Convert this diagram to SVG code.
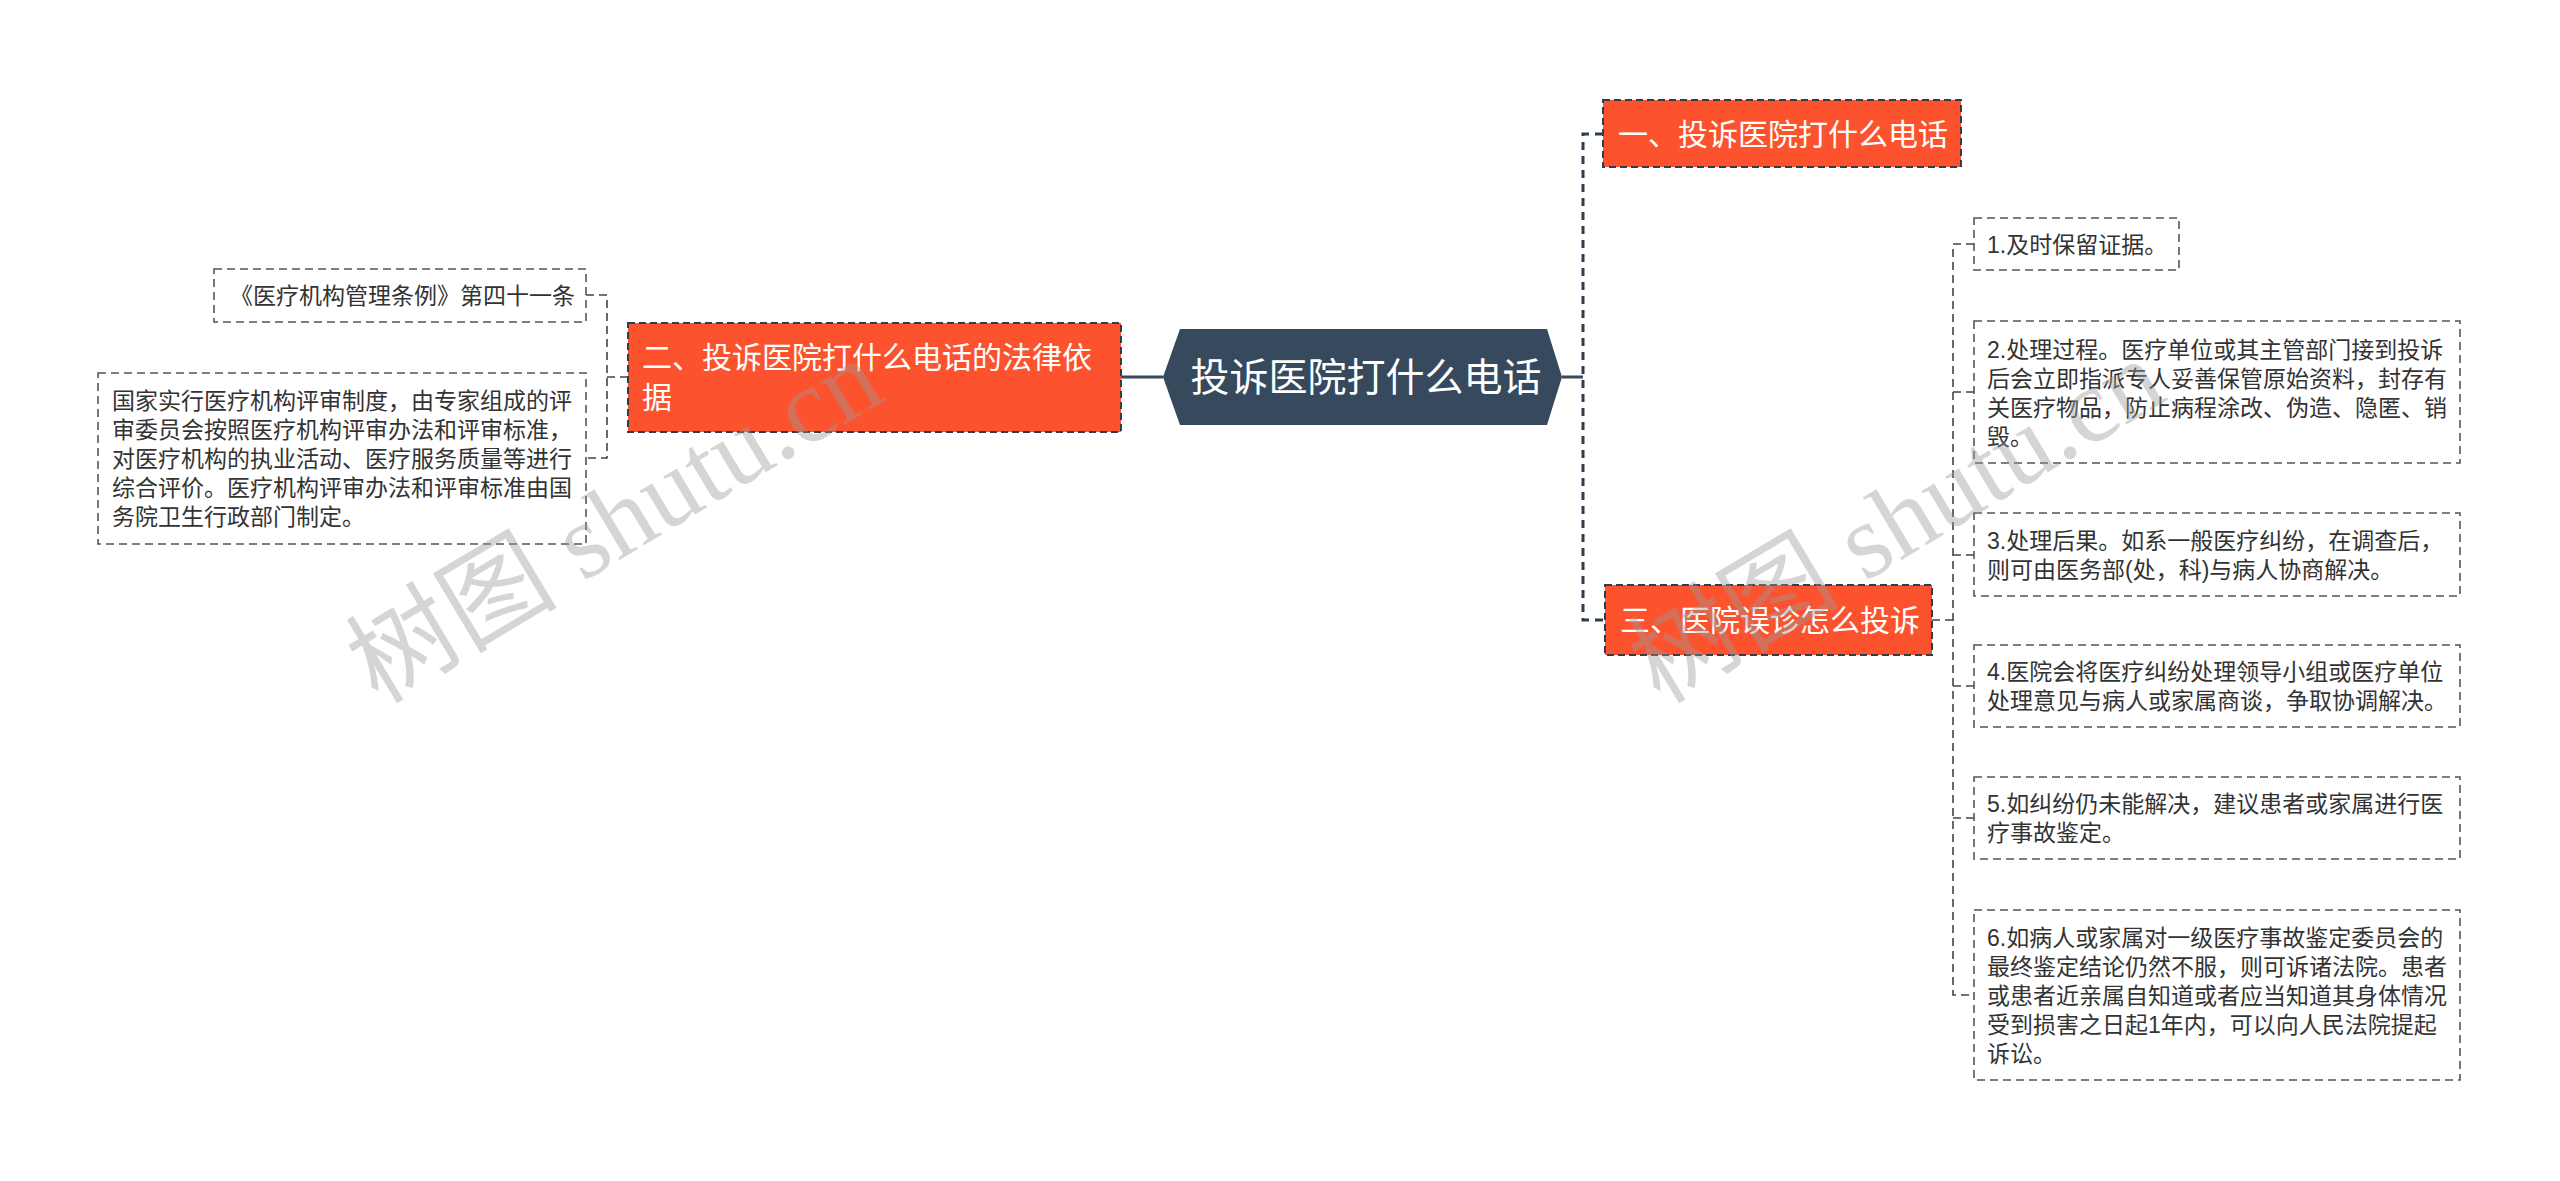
<svg xmlns="http://www.w3.org/2000/svg" width="2560" height="1181" viewBox="0 0 2560 1181">
<style>
text{font-family:"Liberation Sans","Noto Sans CJK SC",sans-serif;dominant-baseline:central}
.hub{fill:#36495d}
.hubt{fill:#fff;font-size:39px}
.org{fill:#fc532e;stroke:#2f3e4e;stroke-width:2;stroke-dasharray:7 4}
.orgt{fill:#fff;font-size:30px}
.leaf{fill:#fff;stroke:#555;stroke-width:1.6;stroke-dasharray:8 5}
.leaft{fill:#333;font-size:23px}
.solid{fill:none;stroke:#36495d;stroke-width:3}
.thick{fill:none;stroke:#2f3e4e;stroke-width:3;stroke-dasharray:8 6}
.thin{fill:none;stroke:#444;stroke-width:1.6;stroke-dasharray:8 5}
.wm{fill:#999;opacity:0.4;font-size:106px;font-family:"Liberation Serif","Noto Sans CJK SC",serif;dominant-baseline:alphabetic}
</style>
<rect width="2560" height="1181" fill="#fff"/>
<g id="connectors">
<path class="solid" d="M1121 377H1163"/>
<path class="solid" d="M1562 377H1583"/>
<path class="thick" d="M1603 134H1583V620H1603"/>
<path class="thin" d="M628 377H607"/>
<path class="thin" d="M586 295H607V458H586"/>
<path class="thin" d="M1932 620H1953"/>
<path class="thin" d="M1974 244H1953V995H1974"/>
<path class="thin" d="M1953 392H1974M1953 555H1974M1953 686H1974M1953 818H1974"/>
</g>
<g id="root">
<polygon class="hub" points="1163,377 1180,329 1547,329 1562,377 1547,425 1180,425"/>
<text class="hubt" x="1366" y="377" text-anchor="middle">投诉医院打什么电话</text>
</g>
<g id="n1">
<rect class="org" x="1603" y="100" width="358" height="67"/>
<text class="orgt" x="1618" y="134">一、投诉医院打什么电话</text>
</g>
<g id="n2">
<rect class="org" x="628" y="323" width="493" height="109"/>
<text class="orgt" x="642" y="357">二、投诉医院打什么电话的法律依</text>
<text class="orgt" x="642" y="397">据</text>
</g>
<g id="n3">
<rect class="org" x="1605" y="585" width="327" height="70"/>
<text class="orgt" x="1620" y="620">三、医院误诊怎么投诉</text>
</g>
<g id="l1">
<rect class="leaf" x="214" y="269" width="372" height="53"/>
<text class="leaft" x="230" y="296">《医疗机构管理条例》第四十一条</text>
</g>
<g id="l2">
<rect class="leaf" x="98" y="373" width="488" height="171"/>
<text class="leaft" x="112" y="401">国家实行医疗机构评审制度，由专家组成的评</text>
<text class="leaft" x="112" y="430">审委员会按照医疗机构评审办法和评审标准，</text>
<text class="leaft" x="112" y="459">对医疗机构的执业活动、医疗服务质量等进行</text>
<text class="leaft" x="112" y="488">综合评价。医疗机构评审办法和评审标准由国</text>
<text class="leaft" x="112" y="517">务院卫生行政部门制定。</text>
</g>
<g id="r1">
<rect class="leaf" x="1974" y="218" width="205" height="52"/>
<text class="leaft" x="1987" y="245">1.及时保留证据。</text>
</g>
<g id="r2">
<rect class="leaf" x="1974" y="321" width="486" height="142"/>
<text class="leaft" x="1987" y="350">2.处理过程。医疗单位或其主管部门接到投诉</text>
<text class="leaft" x="1987" y="379">后会立即指派专人妥善保管原始资料，封存有</text>
<text class="leaft" x="1987" y="408">关医疗物品，防止病程涂改、伪造、隐匿、销</text>
<text class="leaft" x="1987" y="437">毁。</text>
</g>
<g id="r3">
<rect class="leaf" x="1974" y="513" width="486" height="83"/>
<text class="leaft" x="1987" y="541">3.处理后果。如系一般医疗纠纷，在调查后，</text>
<text class="leaft" x="1987" y="570">则可由医务部(处，科)与病人协商解决。</text>
</g>
<g id="r4">
<rect class="leaf" x="1974" y="645" width="486" height="82"/>
<text class="leaft" x="1987" y="672">4.医院会将医疗纠纷处理领导小组或医疗单位</text>
<text class="leaft" x="1987" y="701">处理意见与病人或家属商谈，争取协调解决。</text>
</g>
<g id="r5">
<rect class="leaf" x="1974" y="777" width="486" height="82"/>
<text class="leaft" x="1987" y="804">5.如纠纷仍未能解决，建议患者或家属进行医</text>
<text class="leaft" x="1987" y="833">疗事故鉴定。</text>
</g>
<g id="r6">
<rect class="leaf" x="1974" y="910" width="486" height="170"/>
<text class="leaft" x="1987" y="938">6.如病人或家属对一级医疗事故鉴定委员会的</text>
<text class="leaft" x="1987" y="967">最终鉴定结论仍然不服，则可诉诸法院。患者</text>
<text class="leaft" x="1987" y="996">或患者近亲属自知道或者应当知道其身体情况</text>
<text class="leaft" x="1987" y="1025">受到损害之日起1年内，可以向人民法院提起</text>
<text class="leaft" x="1987" y="1054">诉讼。</text>
</g>
<g id="watermark">
<text class="wm" transform="translate(378 705) rotate(-31)">树图 shutu.cn</text>
<text class="wm" transform="translate(1660 705) rotate(-31)">树图 shutu.cn</text>
</g>
</svg>
